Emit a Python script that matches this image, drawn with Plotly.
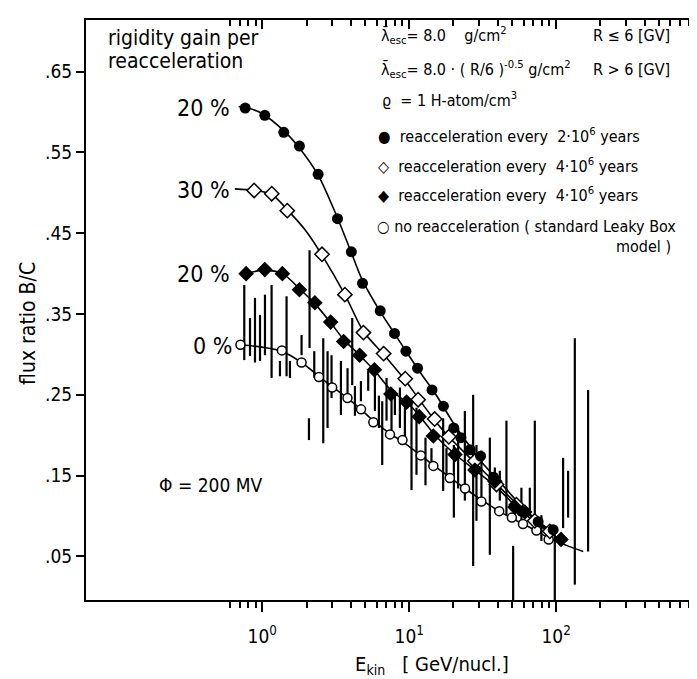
import plotly.graph_objects as go

FONT = "DejaVu Sans Condensed, DejaVu Sans, sans-serif"

# ---------------- data ----------------
# filled circles: 20 % gain, reacceleration every 2e6 yr
fc_E = [0.765, 1.04, 1.40, 1.79, 2.40, 3.25, 4.04, 4.81, 6.35, 7.95, 9.5, 11.4,
        14.3, 17.1, 20.1, 22.5, 26.0, 30.6, 37.5, 58.0, 75.5, 95.5]
fc_v = [0.605, 0.596, 0.575, 0.558, 0.523, 0.468, 0.427, 0.388, 0.354, 0.326, 0.304, 0.283,
        0.256, 0.236, 0.209, 0.197, 0.182, 0.174, 0.148, 0.106, 0.093, 0.083]

# open diamonds: 30 % gain, reacceleration every 4e6 yr
od_E = [0.88, 1.16, 1.48, 2.55, 3.65, 4.88, 6.7, 9.4, 11.5, 14.9, 18.6, 28.0, 39.3, 53.7, 71.6, 90.6]
od_v = [0.503, 0.499, 0.478, 0.424, 0.374, 0.327, 0.301, 0.270, 0.244, 0.220, 0.198, 0.168,
        0.139, 0.114, 0.094, 0.081]

# filled diamonds: 20 % gain, reacceleration every 4e6 yr
fd_E = [0.776, 1.04, 1.37, 1.79, 2.28, 2.92, 3.58, 4.6, 5.8, 7.5, 9.6, 11.7, 14.6, 20.5,
        28.0, 38.3, 52.4, 61.2, 108.0]
fd_v = [0.400, 0.405, 0.400, 0.380, 0.364, 0.340, 0.316, 0.299, 0.281, 0.251, 0.241, 0.223,
        0.199, 0.176, 0.157, 0.143, 0.111, 0.105, 0.071]

# open circles: no reacceleration (standard Leaky Box)
oc_E = [0.71, 1.36, 1.85, 2.43, 2.99, 3.8, 4.7, 5.7, 7.4, 9.0, 12.0, 14.6, 18.9, 24.0,
        31.0, 41.0, 50.0, 59.5, 73.5, 89.0]
oc_v = [0.312, 0.305, 0.290, 0.272, 0.259, 0.246, 0.232, 0.216, 0.201, 0.194, 0.175, 0.162,
        0.147, 0.134, 0.118, 0.106, 0.098, 0.090, 0.082, 0.071]

# model curves
c20a_E = [0.69, 0.8, 1.0, 1.4, 1.8, 2.4, 3.2, 4.0, 4.8, 6.4, 8.0, 10, 12.5, 15, 20, 25, 30, 40, 60, 80, 100]
c20a_v = [0.607, 0.605, 0.598, 0.577, 0.555, 0.522, 0.472, 0.428, 0.392, 0.352, 0.325, 0.298,
          0.272, 0.252, 0.215, 0.190, 0.170, 0.145, 0.110, 0.090, 0.078]
c30_E = [0.65, 0.88, 1.16, 1.5, 2.0, 2.55, 3.65, 4.9, 6.7, 9.4, 11.5, 15, 18.6, 28, 40, 54, 72, 92]
c30_v = [0.505, 0.503, 0.498, 0.478, 0.452, 0.423, 0.374, 0.328, 0.300, 0.268, 0.246, 0.218,
         0.198, 0.166, 0.138, 0.115, 0.095, 0.080]
c20b_E = [0.776, 1.0, 1.37, 1.8, 2.3, 2.9, 3.6, 4.6, 5.8, 7.5, 10, 12, 15, 20, 28, 38, 52, 70, 108]
c20b_v = [0.400, 0.404, 0.400, 0.381, 0.362, 0.340, 0.318, 0.299, 0.280, 0.256, 0.238, 0.222,
          0.200, 0.178, 0.157, 0.138, 0.114, 0.094, 0.070]
c0_E = [0.71, 1.0, 1.36, 1.85, 2.43, 3.0, 3.8, 4.7, 5.7, 7.4, 9.0, 12, 14.6, 18.9, 24, 31, 41,
        50, 60, 74, 89, 120, 153]
c0_v = [0.312, 0.309, 0.304, 0.290, 0.273, 0.260, 0.246, 0.232, 0.218, 0.202, 0.192, 0.175,
        0.163, 0.148, 0.134, 0.120, 0.106, 0.097, 0.090, 0.081, 0.073, 0.063, 0.056]

# measured B/C ratios: energy, lower and upper end of the error bar
meas_E = [0.754, 0.825, 0.892, 0.965, 1.043, 1.157, 1.319, 1.463, 1.543, 1.851, 2.078, 2.098,
          2.258, 2.600, 2.782, 2.961, 3.430, 3.804, 4.095, 4.272, 4.693, 5.261, 5.843, 6.221,
          6.551, 7.010, 7.581, 7.992, 8.645, 9.348, 10.37, 11.21, 12.91, 14.18, 17.03, 17.94,
          20.14, 21.54, 23.93, 27.25, 28.70, 31.03, 35.40, 38.29, 41.40, 45.92, 51.00, 58.06,
          66.23, 71.63, 79.43, 97.99, 111.6, 120.7, 134.1, 165.1]
meas_lo = [0.293, 0.298, 0.290, 0.292, 0.299, 0.271, 0.273, 0.273, 0.271, 0.299, 0.194, 0.308,
           0.271, 0.190, 0.209, 0.246, 0.225, 0.246, 0.262, 0.224, 0.242, 0.255, 0.230, 0.209,
           0.163, 0.218, 0.200, 0.225, 0.209, 0.194, 0.132, 0.151, 0.138, 0.157, 0.131, 0.147,
           0.098, 0.134, 0.119, 0.038, 0.094, 0.119, 0.052, 0.134, 0.119, 0.101, -0.005, 0.085,
           0.101, 0.094, 0.069, -0.005, 0.085, 0.098, 0.015, 0.056]
meas_hi = [0.386, 0.345, 0.370, 0.349, 0.374, 0.386, 0.292, 0.372, 0.292, 0.324, 0.221, 0.429,
           0.304, 0.320, 0.304, 0.299, 0.292, 0.283, 0.345, 0.261, 0.267, 0.280, 0.287, 0.249,
           0.242, 0.271, 0.246, 0.255, 0.259, 0.246, 0.242, 0.234, 0.197, 0.184, 0.221, 0.184,
           0.188, 0.209, 0.230, 0.250, 0.188, 0.181, 0.197, 0.160, 0.156, 0.218, 0.063, 0.135,
           0.135, 0.218, 0.101, 0.077, 0.172, 0.156, 0.320, 0.256]

y_tickvals = [0.05, 0.15, 0.25, 0.35, 0.45, 0.55, 0.65]
y_ticktext = [".05", ".15", ".25", ".35", ".45", ".55", ".65"]
x_tickvals = [1, 10, 100]
x_ticktext = ["10<sup>0</sup>", "10<sup>1</sup>", "10<sup>2</sup>"]
x_minor = [0.6, 0.7, 0.8, 0.9, 2, 3, 4, 5, 6, 7, 8, 9, 20, 30, 40, 50, 60, 70, 80, 90,
           200, 300, 400, 500, 600, 700, 800, 900]

# ---------------- figure ----------------
W, H = 697, 679
ML, MR, MT, MB = 78, 2, 12, 87
PW, PH = W - ML - MR, H - MT - MB


def px(x, y):
    return (x - ML) / PW, (H - MB - y) / PH


fig = go.Figure()

meas_mid = [(a + b) / 2 for a, b in zip(meas_lo, meas_hi)]
fig.add_trace(go.Scatter(
    x=meas_E, y=meas_mid, mode="markers",
    marker=dict(size=1, color="rgba(0,0,0,0)"),
    error_y=dict(type="data", symmetric=False,
                 array=[h - m for h, m in zip(meas_hi, meas_mid)],
                 arrayminus=[m - l for m, l in zip(meas_mid, meas_lo)],
                 color="black", thickness=2.2, width=0),
    showlegend=False, hoverinfo="skip"))

line = dict(color="black", width=1.6, shape="spline", smoothing=0.8)
for cx, cy in [(c20a_E, c20a_v), (c30_E, c30_v), (c20b_E, c20b_v), (c0_E, c0_v)]:
    fig.add_trace(go.Scatter(x=cx, y=cy, mode="lines", line=line, showlegend=False))

fig.add_trace(go.Scatter(x=oc_E, y=oc_v, mode="markers", showlegend=False,
                         marker=dict(symbol="circle", size=9, color="white",
                                     line=dict(color="black", width=1.5))))
fig.add_trace(go.Scatter(x=od_E, y=od_v, mode="markers", showlegend=False,
                         marker=dict(symbol="diamond", size=11, color="white",
                                     line=dict(color="black", width=1.5))))
fig.add_trace(go.Scatter(x=fd_E, y=fd_v, mode="markers", showlegend=False,
                         marker=dict(symbol="diamond", size=12, color="black")))
fig.add_trace(go.Scatter(x=fc_E, y=fc_v, mode="markers", showlegend=False,
                         marker=dict(symbol="circle", size=11, color="black")))

# dummy trace so the mirrored (top/right) axes get drawn
fig.add_trace(go.Scatter(x=[1], y=[None], xaxis="x2", yaxis="y2", showlegend=False,
                         hoverinfo="skip"))

xr = [-1.2, 3.0]
yr = [-0.004, 0.714]
tickfont = dict(family=FONT, size=19, color="black")

fig.update_layout(
    template="none",
    width=W, height=H,
    margin=dict(l=ML, r=MR, t=MT, b=MB, autoexpand=False),
    paper_bgcolor="white", plot_bgcolor="white",
    showlegend=False,
    font=dict(family=FONT, color="black"),
    xaxis=dict(type="log", range=xr, showgrid=False, zeroline=False, automargin=False,
               showline=True, linecolor="black", linewidth=2,
               ticks="outside", ticklen=10, tickwidth=2, tickcolor="black",
               tickmode="array", tickvals=x_tickvals, ticktext=x_ticktext,
               tickfont=tickfont, ticklabelstandoff=8,
               minor=dict(ticks="outside", ticklen=6, tickwidth=2, tickcolor="black",
                          tickmode="array", tickvals=x_minor, showgrid=False)),
    xaxis2=dict(type="log", range=xr, overlaying="x", side="top", showgrid=False,
                zeroline=False, automargin=False, showline=True, linecolor="black", linewidth=2,
                ticks="inside", ticklen=9, tickwidth=2, tickcolor="black",
                tickmode="array", tickvals=x_tickvals, showticklabels=False,
                minor=dict(ticks="inside", ticklen=6, tickwidth=2, tickcolor="black",
                           tickmode="array", tickvals=x_minor, showgrid=False)),
    yaxis=dict(range=yr, showgrid=False, zeroline=False, automargin=False,
               showline=True, linecolor="black", linewidth=2,
               ticks="outside", ticklen=8, tickwidth=2, tickcolor="black",
               tickmode="array", tickvals=y_tickvals, ticktext=y_ticktext,
               tickfont=tickfont),
    yaxis2=dict(range=yr, overlaying="y", side="right", showgrid=False, zeroline=False,
                automargin=False, showline=True, linecolor="black", linewidth=2,
                ticks="inside", ticklen=5, tickwidth=2, tickcolor="black",
                tickmode="array", tickvals=y_tickvals, showticklabels=False),
)


def note(text, x, y, size=16, xanchor="left", angle=0):
    ax, ay = px(x, y)
    fig.add_annotation(text=text, x=ax, y=ay, xref="paper", yref="paper",
                       xanchor=xanchor, yanchor="middle", showarrow=False,
                       textangle=angle, font=dict(family=FONT, size=size, color="black"))


note("rigidity gain per", 98, 30, size=21)
note("reacceleration", 98, 53, size=21)

note("λ̄<sub>esc</sub>= 8.0    g/cm<sup>2</sup>", 371, 27, size=16)
note("R ≤ 6 [GV]", 583, 27, size=16)
note("λ̄<sub>esc</sub>= 8.0 · ( R/6 )<sup>-0.5</sup> g/cm<sup>2</sup>", 371, 62, size=16)
note("R > 6 [GV]", 583, 62, size=16)
note("ϱ  = 1 H-atom/cm<sup>3</sup>", 372, 91, size=16)
note("●  reacceleration every  2·10<sup>6</sup> years", 368, 127, size=16)
note("◇  reacceleration every  4·10<sup>6</sup> years", 368, 157, size=16)
note("◆  reacceleration every  4·10<sup>6</sup> years", 368, 186, size=16)
note("○ no reacceleration ( standard Leaky Box", 367, 218, size=16)
note("model )", 606, 238, size=16)

note("20 %", 224, 100, size=23, xanchor="right")
note("30 %", 224, 182, size=23, xanchor="right")
note("20 %", 224, 266, size=23, xanchor="right")
note("0 %", 226, 338, size=23, xanchor="right")
note("Φ = 200 MV", 149, 477, size=19)

note("E<sub>kin</sub>   [ GeV/nucl.]", 345, 657, size=20)
note("flux ratio B/C", 20, 316, size=21, xanchor="center", angle=-90)

fig.write_html("out.html")
